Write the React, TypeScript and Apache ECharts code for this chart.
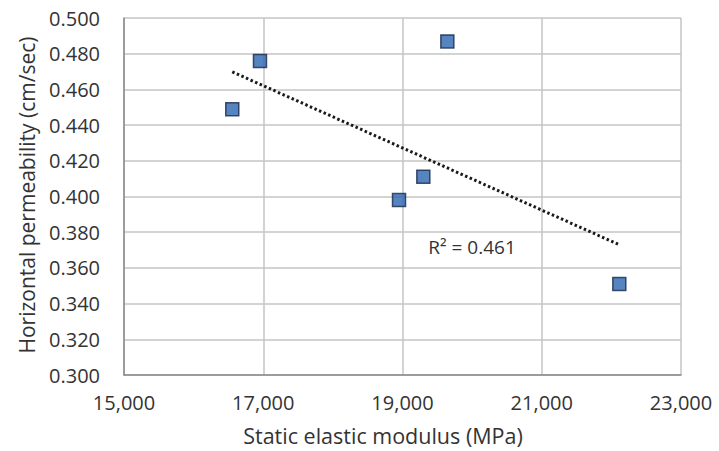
import React, { useEffect, useRef } from "react";
import * as echarts from "echarts";

const modulusMPa = [16555, 16953, 19644, 19299, 18950, 22114];
const permeability = [0.4489, 0.4759, 0.4869, 0.4111, 0.398, 0.351];
const rSquaredLabel = "R\u00b2 = 0.461";
const xTitle = "Static elastic modulus (MPa)";
const yTitle = "Horizontal permeability (cm/sec)";

function linearFit(xs: number[], ys: number[]) {
  const n = xs.length;
  const mx = xs.reduce((a, b) => a + b, 0) / n;
  const my = ys.reduce((a, b) => a + b, 0) / n;
  let sxy = 0;
  let sxx = 0;
  for (let i = 0; i < n; i++) {
    sxy += (xs[i] - mx) * (ys[i] - my);
    sxx += (xs[i] - mx) * (xs[i] - mx);
  }
  const slope = sxy / sxx;
  return { slope, intercept: my - slope * mx };
}

export default function App() {
  const ref = useRef<HTMLDivElement>(null);
  useEffect(() => {
    document.body.style.margin = "0";
    document.body.style.overflow = "hidden";
    if (!ref.current) return;
    const chart = echarts.init(ref.current, null, { renderer: "svg" });
    const fit = linearFit(modulusMPa, permeability);
    const xMin = Math.min(...modulusMPa);
    const xMax = Math.max(...modulusMPa);
    const trend = [
      [xMin, fit.intercept + fit.slope * xMin],
      [xMax, fit.intercept + fit.slope * xMax],
    ];
    const font = "'Open Sans', 'Noto Sans', sans-serif";
    chart.setOption({
      animation: false,
      backgroundColor: "#ffffff",
      grid: { left: 124, right: 38, top: 18, bottom: 76, containLabel: false },
      xAxis: {
        type: "value",
        min: 15000,
        max: 23000,
        interval: 2000,
        axisLine: { show: true, lineStyle: { color: "#8a8a8a", width: 1.5 } },
        axisTick: { show: false },
        splitLine: { show: true, lineStyle: { color: "#c4c4c4", width: 1.5 } },
        axisLabel: {
          margin: 17,
          fontFamily: font,
          fontSize: 20,
          color: "#333333",
          formatter: (v: number) => v.toLocaleString("en-US"),
        },
      },
      yAxis: {
        type: "value",
        min: 0.3,
        max: 0.5,
        interval: 0.02,
        axisLine: { show: true, lineStyle: { color: "#8a8a8a", width: 1.5 } },
        axisTick: { show: false },
        splitLine: { show: true, lineStyle: { color: "#c4c4c4", width: 1.5 } },
        axisLabel: {
          margin: 24,
          fontFamily: font,
          fontSize: 20,
          color: "#333333",
          formatter: (v: number) => v.toFixed(3),
        },
      },
      graphic: [
        {
          type: "text",
          x: 383,
          y: 435,
          style: {
            text: xTitle,
            fontFamily: font,
            fontSize: 21.5,
            lineHeight: 22,
            fill: "#333333",
            align: "center",
            verticalAlign: "middle",
          },
        },
        {
          type: "text",
          x: 27,
          y: 195,
          rotation: Math.PI / 2,
          style: {
            text: yTitle,
            fontFamily: font,
            fontSize: 21,
            fill: "#333333",
            align: "center",
            verticalAlign: "middle",
          },
        },
        {
          type: "text",
          x: 472,
          y: 247,
          style: {
            text: rSquaredLabel,
            fontFamily: font,
            fontSize: 19,
            fill: "#333333",
            align: "center",
            verticalAlign: "middle",
          },
        },
      ],
      series: [
        {
          type: "line",
          data: trend,
          showSymbol: false,
          symbol: "none",
          lineStyle: { color: "#1a1a1a", width: 3, type: [2.5, 2.5], cap: "butt" },
          z: 2,
        },
        {
          type: "scatter",
          data: modulusMPa.map((x, i) => [x, permeability[i]]),
          symbol: "rect",
          symbolSize: 13,
          itemStyle: { color: "#2a65b0", borderColor: "#17284a", borderWidth: 1.5 },
          z: 3,
        },
      ],
    });
    return () => chart.dispose();
  }, []);
  return <div ref={ref} style={{ width: 719, height: 451 }} />;
}
